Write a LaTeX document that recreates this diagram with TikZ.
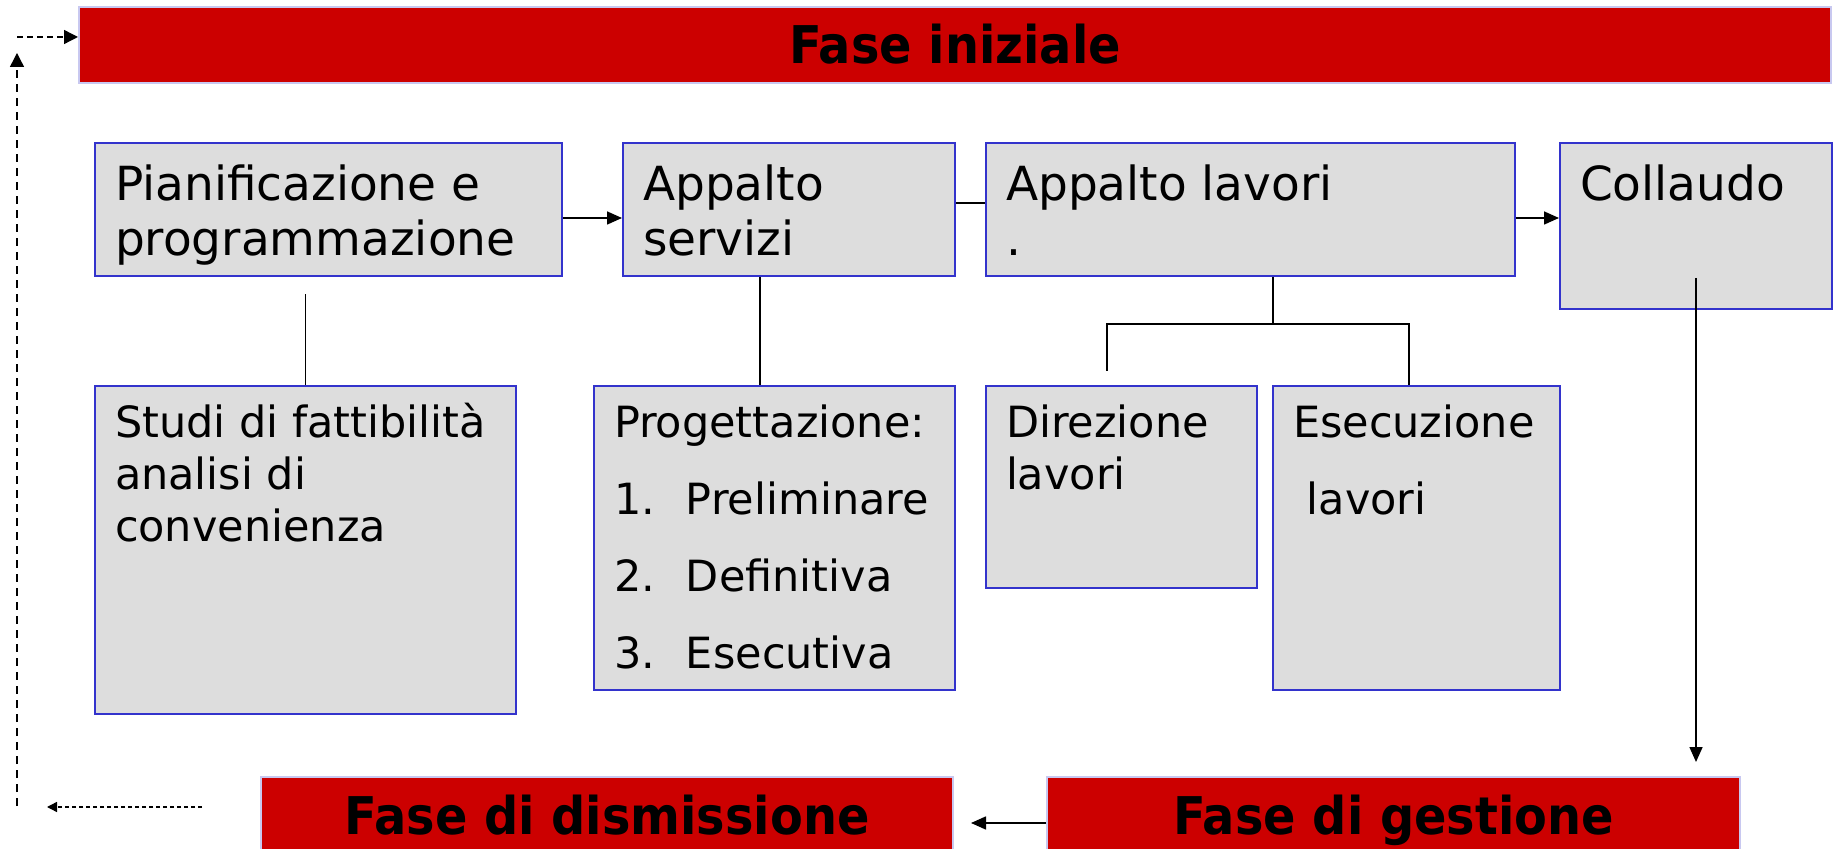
\documentclass[tikz,border=0pt]{standalone}
\usepackage{fontspec}
\setmainfont{DejaVu Sans}
\usepackage{graphicx}
\usetikzlibrary{arrows.meta,positioning,calc}
\definecolor{barred}{HTML}{CC0000}
\definecolor{barline}{HTML}{C8C8F0}
\definecolor{boxgray}{HTML}{DDDDDD}
\definecolor{boxblue}{HTML}{3333CC}
\newcommand{\topcell}[3]{\parbox[c][#2][t]{#1}{\fontsize{23.5}{27.5}\selectfont\raggedright\leftskip=10pt\rule{0pt}{28.7pt}#3}}
\newcommand{\lowcell}[4]{\parbox[c][#2][t]{#1}{\fontsize{21.5}{#3}\selectfont\raggedright\leftskip=10pt\rule{0pt}{26pt}#4}}
\newcommand{\phase}[1]{\scalebox{0.92}[1]{#1}}

\begin{document}
\begin{tikzpicture}[x=0.5pt,y=-0.5pt,
        box/.style={draw=boxblue,fill=boxgray,line width=1pt,inner sep=0pt,anchor=north west},
        bar/.style={draw=barline,fill=barred,line width=1pt,inner sep=0pt,anchor=north west,
            minimum height=38pt,text height=19pt,text depth=0pt,
            font=\fontsize{26}{30}\selectfont\bfseries},
        link/.style={line width=0.8pt},
        arrow/.style={link,-{Triangle[length=7.5pt,width=6.5pt]}},
        loop/.style={line width=0.7pt,dash pattern=on 3pt off 2pt,-{Triangle[length=7pt,width=7pt]}}]
    \clip (0,0) rectangle (1837,849);
    \node[bar,minimum width=876pt] (ini) at (78,6) {\phase{Fase iniziale}};
    \node[bar,minimum width=346pt] (dism) at (260,776) {\phase{Fase di dismissione}};
    \node[bar,minimum width=346.5pt,right=46pt of dism.north east,anchor=north west] (gest) {\phase{Fase di gestione}};

    \node[box] (pian) at (94,142) {\topcell{233.5pt}{66.5pt}{Pianificazione e\\programmazione}};
    \node[box,right=29.5pt of pian.north east,anchor=north west] (serv) {\topcell{166pt}{66.5pt}{Appalto\\servizi}};
    \node[box,right=14.5pt of serv.north east,anchor=north west] (lav) {\topcell{264.5pt}{66.5pt}{Appalto lavori\\.}};
    \node[box,right=21.5pt of lav.north east,anchor=north west] (coll) {\topcell{136pt}{83pt}{Collaudo}};

    \node[box,below=54pt of pian.south west,anchor=north west] (studi) {\lowcell{210.5pt}{164pt}{26pt}{Studi di fattibilità\\analisi di\\convenienza}};
    \node[box,below=54pt of serv.south west,anchor=north west,xshift=-14.5pt] (prog) {\lowcell{180.5pt}{152pt}{38.5pt}{Progettazione:\\
        \makebox[36pt][l]{1.}Preliminare\\\makebox[36pt][l]{2.}Definitiva\\\makebox[36pt][l]{3.}Esecutiva}};
    \node[box,below=54pt of lav.south west,anchor=north west] (dir) {\lowcell{135.5pt}{101pt}{26pt}{Direzione\\lavori}};
    \node[box,right=7pt of dir.north east,anchor=north west] (esec) {\lowcell{143.5pt}{152pt}{38.5pt}{Esecuzione\\\hspace*{0.32em}lavori}};

    % top row
    \draw[arrow] ([yshift=-4.25pt]pian.east) -- ([yshift=-4.25pt]serv.west);
    \draw[link] ([yshift=3.25pt]serv.east) -- ([yshift=3.25pt]lav.west);
    \draw[arrow] ([yshift=-4.25pt]lav.east) -- ([yshift=4pt]coll.west);

    % down to the second row
    \draw[link] (studi.north) -- ++(0,-91);
    \coordinate (s1) at ([xshift=-14.5pt]serv.south);
    \draw[link] (s1) -- (s1 |- prog.north);
    \coordinate (t1) at ([xshift=11.25pt]lav.south);
    \coordinate (fork) at ([yshift=-23.5pt]t1);
    \coordinate (dstub) at ([xshift=-7.25pt,yshift=7pt]dir.north);
    \coordinate (edrop) at ([xshift=-3.75pt]esec.north);
    \draw[link] (t1) -- (fork);
    \draw[link] (dstub) |- (fork) -| (edrop);

    % management and back to the start
    \coordinate (cstart) at ([yshift=16pt]coll.south);
    \draw[arrow,shorten >=7pt] (cstart) -- (cstart |- gest.north);
    \draw[arrow,shorten >=8.5pt] ([yshift=-4pt]gest.west) -- ([yshift=-4pt]dism.east);
    \draw[loop,dash pattern=on 2pt off 1.5pt,-{Triangle[length=5pt,width=5pt]}] ([xshift=-29pt,yshift=4pt]dism.west) -- ++(-155,0);
    \coordinate (corner) at (17,806);
    \draw[loop,dash pattern=on 4pt off 3pt] (corner) -- ++(0,-753);
    \coordinate (itop) at ([yshift=4pt]ini.west);
    \draw[loop] (itop -| corner) -- (itop);
\end{tikzpicture}
\end{document}
